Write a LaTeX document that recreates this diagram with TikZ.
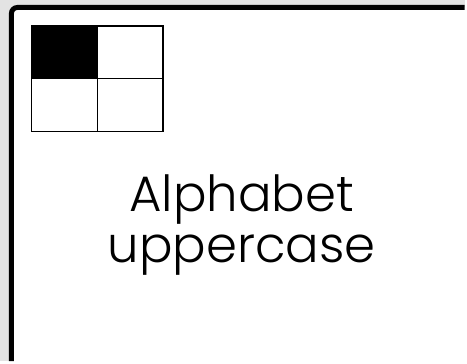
\documentclass[tikz,border=0pt]{standalone}
\usepackage{fontspec}
\setmainfont{Poppins}[UprightFont=* Light]
\begin{document}
\begin{tikzpicture}[
    x=1pt, y=-1pt,
    cell/.style={draw, line width=1.3pt, minimum width=66pt, minimum height=53pt, inner sep=0pt, outer sep=0pt},
    frame/.style={line width=5pt, rounded corners=6pt}
]
% background and frame
\fill[gray!22] (0,0) rectangle (467,363);
\fill[white] (11.5,7.5) rectangle (467,363);
\draw[frame] (11.5,363) -- (11.5,7.5) -- (467,7.5);

% 2x2 grid
\node[cell, fill=black, anchor=north west] (c11) at (32,26) {};
\node[cell, fill=white, anchor=west] (c12) at (c11.east) {};
\node[cell, fill=white, anchor=north] (c21) at (c11.south) {};
\node[cell, fill=white, anchor=west] (c22) at (c21.east) {};

% label
\node[font=\fontsize{50}{51}\selectfont, align=center, anchor=base] (lbl) at (243,264) {Alphabet\\uppercase};
\end{tikzpicture}
\end{document}
